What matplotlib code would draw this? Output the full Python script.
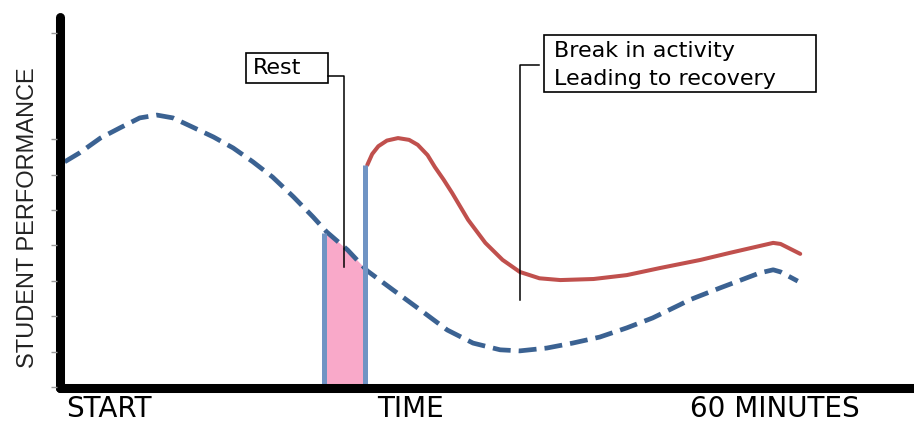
import numpy as np
import matplotlib
matplotlib.use("Agg")
import matplotlib.pyplot as plt
from matplotlib.patches import Rectangle

# time in minutes, performance in tick units
dashed_t = [0.3, 1.5, 3.2, 4.8, 6.4, 7.8, 9.1, 10.7, 12.4, 14.0, 15.6, 17.2, 18.9,
            20.5, 21.6, 23.3, 24.9, 27.0, 29.2, 31.4, 33.5, 35.7, 37.3, 39.5, 41.6,
            43.8, 46.0, 48.1, 50.3, 51.1, 53.6, 56.8, 57.9, 58.5, 59.9]
dashed_p = [6.36, 6.61, 7.03, 7.32, 7.60, 7.68, 7.60, 7.34, 7.06, 6.75, 6.36, 5.93, 5.37,
            4.80, 4.38, 3.87, 3.28, 2.74, 2.18, 1.61, 1.24, 1.05, 1.02, 1.10, 1.24,
            1.41, 1.67, 1.95, 2.32, 2.46, 2.80, 3.22, 3.31, 3.25, 2.99]

red_t = [24.9, 25.3, 25.8, 26.5, 27.4, 28.3, 29.0, 29.8, 30.4, 31.1, 31.8, 33.1, 34.5,
         35.9, 37.3, 38.9, 40.6, 43.3, 46.0, 48.7, 52.0, 54.4, 57.9, 58.5, 60.1]
red_p = [6.27, 6.58, 6.80, 6.96, 7.03, 6.98, 6.84, 6.55, 6.21, 5.86, 5.48, 4.72, 4.07,
         3.59, 3.25, 3.07, 3.02, 3.05, 3.16, 3.36, 3.59, 3.79, 4.07, 4.04, 3.76]

rest_start, rest_end = 21.4, 24.7
rest_start_top, rest_end_top = 4.35, 6.27
tick_values = [0, 1, 2, 3, 4, 5, 6, 7, 10]

fig = plt.figure(figsize=(9.14, 4.23), dpi=100)
ax = fig.add_axes([0, 0, 1, 1])
ax.set_xlim(-4.96, 69.35)
ax.set_ylim(-1.017, 10.93)
ax.axis("off")

# rest shading under the dashed curve
ft = np.linspace(rest_start, rest_end, 30)
ax.fill_between(ft, 0, np.interp(ft, dashed_t, dashed_p), color="#f9a9c9", lw=0, zorder=1)

ax.plot(dashed_t, dashed_p, color="#3b6292", lw=3.4, dashes=(3.8, 1.7),
        solid_capstyle="butt", zorder=3)
ax.plot(red_t, red_p, color="#c0504d", lw=2.9, solid_capstyle="round",
        solid_joinstyle="round", zorder=3)

ax.vlines([rest_start, rest_end], -0.09, [rest_start_top, rest_end_top],
          color="#7094c4", lw=3.6, zorder=4)

# axes
ax.plot([-0.05, -0.05], [-0.02, 10.45], color="black", lw=6.5, solid_capstyle="round", zorder=5)
ax.plot([-0.05, 70], [-0.02, -0.02], color="black", lw=6.5, solid_capstyle="round", zorder=5)
ax.hlines(tick_values, -0.85, -0.35, color="#999999", lw=1, zorder=5)

# callouts
ax.add_patch(Rectangle((15.04, 8.59), 6.67, 0.84, fc="white", ec="black", lw=1.2, zorder=6))
ax.text(15.6, 8.84, "Rest", fontsize=16, va="baseline", zorder=7)
ax.plot([21.71, 23.0, 23.0], [8.79, 8.79, 3.39], color="black", lw=1.1, zorder=6)

ax.add_patch(Rectangle((39.27, 8.33), 22.13, 1.61, fc="white", ec="black", lw=1.2, zorder=6))
ax.text(40.1, 9.32, "Break in activity", fontsize=16, va="baseline", zorder=7)
ax.text(40.1, 8.53, "Leading to recovery", fontsize=16, va="baseline", zorder=7)
ax.plot([38.9, 37.3, 37.3], [9.09, 9.09, 2.46], color="black", lw=1.1, zorder=6)

# labels
ax.text(-2.68, 4.77, "STUDENT PERFORMANCE", rotation=90, ha="center", va="center",
        fontsize=17, color="#222222", family="Liberation Sans")
ax.text(0.4, -0.86, "START", fontsize=20, va="baseline")
ax.text(25.7, -0.86, "TIME", fontsize=20, va="baseline")
ax.text(51.1, -0.86, "60 MINUTES", fontsize=20, va="baseline")

fig.savefig("out.png", dpi=100)
